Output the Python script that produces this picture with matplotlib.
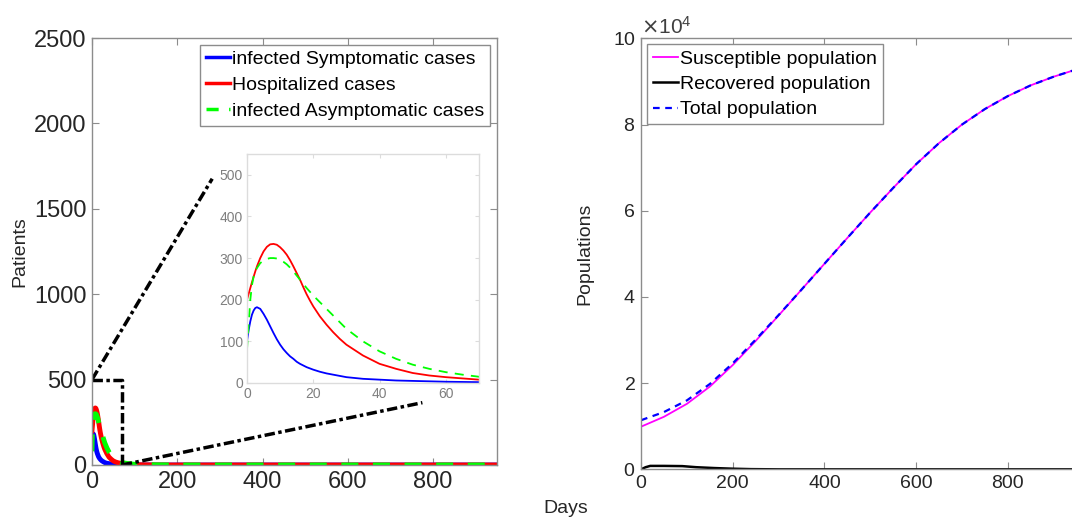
import matplotlib
matplotlib.use("Agg")
import matplotlib.pyplot as plt
from matplotlib.ticker import ScalarFormatter

plt.rcParams["font.family"] = ["Liberation Sans", "DejaVu Sans"]

# ---- left panel: patients ----
days = [0, 0.5, 1, 1.5, 2, 2.5, 3, 4, 5, 6, 7, 8, 9, 10, 11, 12, 13, 14, 15,
        16, 17, 18, 19, 20, 22, 24, 26, 28, 30, 35, 40, 45, 50, 55, 60, 65, 70,
        80, 100, 150, 200, 400, 600, 800, 950]
symptomatic = [100, 127, 148, 164, 174, 180, 182, 178, 166, 152, 136, 120, 105,
               92, 81, 72, 64, 58, 51, 46, 42, 38, 35, 32, 27, 23, 20, 17, 14,
               10, 8, 6, 5, 4, 3, 2.5, 2, 1, 0, 0, 0, 0, 0, 0, 0]
hospitalized = [200, 214, 228, 242, 255, 268, 280, 300, 316, 327, 333, 334, 332,
                326, 318, 308, 295, 280, 264, 248, 230, 213, 198, 184, 160, 140,
                122, 106, 92, 66, 46, 34, 24, 18, 14, 11, 8, 5, 2, 0, 0, 0, 0,
                0, 0]
asymptomatic = [80, 140, 200, 235, 256, 268, 276, 288, 294, 298, 300, 300, 299,
                296, 291, 285, 277, 268, 258, 248, 238, 228, 219, 210, 194, 178,
                162, 146, 130, 100, 76, 58, 44, 34, 26, 20, 15, 10, 4, 1, 0, 0,
                0, 0, 0]

# ---- right panel: populations ----
pop_days = [0, 50, 100, 150, 200, 250, 300, 350, 400, 450, 500, 550, 600, 650,
            700, 750, 800, 850, 900, 950, 1000]
susceptible = [0.99e4, 1.22e4, 1.52e4, 1.92e4, 2.42e4, 2.98e4, 3.57e4, 4.17e4,
               4.77e4, 5.37e4, 5.96e4, 6.53e4, 7.08e4, 7.57e4, 8.00e4, 8.36e4,
               8.66e4, 8.91e4, 9.11e4, 9.28e4, 9.40e4]
total = [1.14e4, 1.33e4, 1.60e4, 1.98e4, 2.46e4, 3.01e4, 3.58e4, 4.17e4,
         4.77e4, 5.37e4, 5.96e4, 6.53e4, 7.08e4, 7.57e4, 8.00e4, 8.36e4,
         8.66e4, 8.91e4, 9.11e4, 9.28e4, 9.40e4]
rec_days = [0, 10, 20, 50, 90, 120, 160, 200, 240, 300, 1000]
recovered = [0, 500, 800, 800, 750, 500, 300, 150, 50, 0, 0]

# zoom box and connector end points (data units of the left panel)
box_x, box_y = 70, 500
conn_top = (282, 1676)
conn_bottom = (775, 365)

SPINE = "#8c8c8c"
TXT = "#262626"


def matlab_axes(ax, color=SPINE, labelsize=16, labelcolor=TXT):
    for s in ax.spines.values():
        s.set_color(color)
        s.set_linewidth(1.0)
    ax.tick_params(direction="in", top=True, right=True, length=5,
                   color=color, labelsize=labelsize, labelcolor=labelcolor,
                   pad=4)


fig = plt.figure(figsize=(10.72, 5.25), dpi=100)

# left main axes
ax1 = fig.add_axes([0.0858, 0.1143, 0.3778, 0.8133])
ax1.plot(days, symptomatic, color="blue", lw=3.5, label="infected Symptomatic cases")
ax1.plot(days, hospitalized, color="red", lw=3.5, label="Hospitalized cases")
ax1.plot(days, asymptomatic, color="#00ff00", lw=3.5, ls=(0, (3.5, 3)),
         label="infected Asymptomatic cases")
ax1.set_xlim(0, 950)
ax1.set_ylim(0, 2500)
ax1.set_xticks([0, 200, 400, 600, 800])
ax1.set_yticks([0, 500, 1000, 1500, 2000, 2500])
matlab_axes(ax1, labelsize=17)
ax1.set_ylabel("Patients", fontsize=14, color=TXT, labelpad=4)
leg1 = ax1.legend(loc="upper right", fontsize=14, handlelength=1.25,
                  handletextpad=0.1, labelspacing=0.42, borderpad=0.3,
                  borderaxespad=0.35, fancybox=False, framealpha=1,
                  edgecolor=SPINE)
for h in leg1.get_lines():
    h.set_linewidth(2.5)

# zoom box and connectors
dd = (0, (3, 1, 1, 1))
ax1.plot([0, box_x, box_x], [box_y, box_y, 0], color="black", lw=2.5, ls=dd,
         clip_on=False)
ax1.plot([0, conn_top[0]], [box_y, conn_top[1]], color="black", lw=2.5, ls=dd)
ax1.plot([box_x, conn_bottom[0]], [0, conn_bottom[1]], color="black", lw=2.5,
         ls=dd)

# inset
ins = fig.add_axes([0.2304, 0.2705, 0.2164, 0.4362])
ins.plot(days, symptomatic, color="blue", lw=1.3)
ins.plot(days, hospitalized, color="red", lw=1.3)
ins.plot(days, asymptomatic, color="#00ff00", lw=1.3, ls=(0, (5, 4)))
ins.set_xlim(0, 70)
ins.set_ylim(0, 550)
ins.set_xticks([0, 20, 40, 60])
ins.set_yticks([0, 100, 200, 300, 400, 500])
matlab_axes(ins, color="#dcdcdc", labelsize=10, labelcolor="#7f7f7f")
ins.tick_params(length=3, pad=3)

# right axes
ax2 = fig.add_axes([0.598, 0.106, 0.4277, 0.821])
ax2.plot(pop_days, susceptible, color="magenta", lw=1.3, label="Susceptible population")
ax2.plot(rec_days, recovered, color="black", lw=1.8, label="Recovered population")
ax2.plot(pop_days, total, color="blue", lw=1.6, ls=(0, (3, 2.5)),
         label="Total population")
ax2.set_xlim(0, 1000)
ax2.set_ylim(0, 1e5)
ax2.set_xticks([0, 200, 400, 600, 800])
ax2.set_yticks([0, 2e4, 4e4, 6e4, 8e4, 1e5])
fmt = ScalarFormatter(useMathText=True)
fmt.set_powerlimits((4, 4))
ax2.yaxis.set_major_formatter(fmt)
matlab_axes(ax2, labelsize=14)
ax2.yaxis.get_offset_text().set_fontsize(15)
ax2.yaxis.get_offset_text().set_color("#404040")
ax2.set_ylabel("Populations", fontsize=14, color=TXT, labelpad=14)
ax2.legend(loc="upper left", fontsize=14, handlelength=1.3,
           handletextpad=0.1, labelspacing=0.4, borderpad=0.3,
           borderaxespad=0.3, fancybox=False, framealpha=1,
           edgecolor=SPINE)

fig.text(0.528, 0.022, "Days", fontsize=14, color=TXT, ha="center")

fig.savefig("out.png", dpi=100)
